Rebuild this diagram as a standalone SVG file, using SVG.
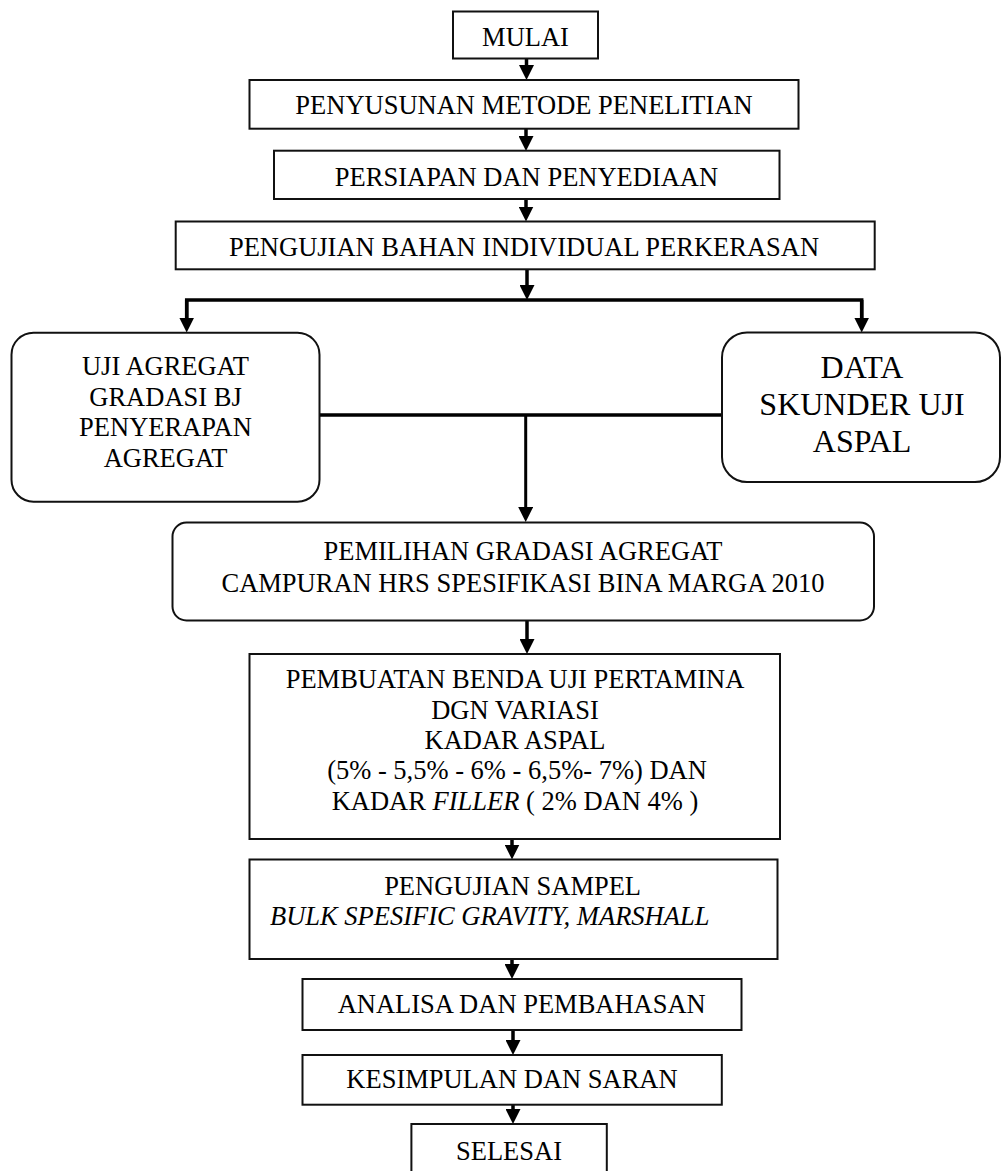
<svg xmlns="http://www.w3.org/2000/svg" width="1002" height="1171" viewBox="0 0 1002 1171">
<style>
.box{fill:#fff;stroke:#111;stroke-width:2}
.t{font-family:"Liberation Serif","Times New Roman",serif;font-size:26.5px;fill:#000;text-anchor:middle}
.big{font-size:32px}
.c{fill:none;stroke:#000;stroke-width:3.5}
.thin{stroke-width:3}
</style>
<defs>
<marker id="ah" viewBox="0 0 15 15" refX="7" refY="7.5" markerWidth="15" markerHeight="15" markerUnits="userSpaceOnUse" orient="auto">
<path d="M0,0 L15,7.5 L0,15 z" fill="#000"/>
</marker>
</defs>
<rect width="1002" height="1171" fill="#fff"/>
<g id="connectors">
<line class="c" x1="526.5" y1="59" x2="526.5" y2="72" marker-end="url(#ah)"/>
<line class="c" x1="526" y1="129" x2="526" y2="143" marker-end="url(#ah)"/>
<line class="c" x1="526" y1="199" x2="526" y2="213.5" marker-end="url(#ah)"/>
<line class="c" x1="527" y1="269" x2="527" y2="292" marker-end="url(#ah)"/>
<polyline class="c" points="186.7,325 186.7,300 861.7,300 861.7,325" stroke-width="4"/>
<line class="c" x1="186.7" y1="300" x2="186.7" y2="324.5" marker-end="url(#ah)"/>
<line class="c" x1="861.7" y1="300" x2="861.7" y2="324.5" marker-end="url(#ah)"/>
<line class="c" x1="319.5" y1="415" x2="722" y2="415" stroke-width="4"/>
<line class="c thin" x1="525.7" y1="415" x2="525.7" y2="514" marker-end="url(#ah)"/>
<line class="c" x1="527" y1="621" x2="527" y2="646" marker-end="url(#ah)"/>
<line class="c" x1="512" y1="839" x2="512" y2="851.5" marker-end="url(#ah)"/>
<line class="c" x1="512" y1="959" x2="512" y2="971" marker-end="url(#ah)"/>
<line class="c" x1="513" y1="1030" x2="513" y2="1047" marker-end="url(#ah)"/>
<line class="c" x1="513" y1="1105" x2="513" y2="1116" marker-end="url(#ah)"/>
</g>
<g id="mulai">
<rect class="box" x="453" y="11.5" width="145" height="47"/>
<text class="t" x="525.5" y="46">MULAI</text>
</g>
<g id="penyusunan">
<rect class="box" x="249.5" y="80" width="549" height="48.7"/>
<text class="t" x="524" y="114">PENYUSUNAN METODE PENELITIAN</text>
</g>
<g id="persiapan">
<rect class="box" x="274" y="150.7" width="505.5" height="48.3"/>
<text class="t" x="526.5" y="186">PERSIAPAN DAN PENYEDIAAN</text>
</g>
<g id="pengujian-bahan">
<rect class="box" x="175.7" y="221.5" width="699" height="47.8"/>
<text class="t" x="524" y="256">PENGUJIAN BAHAN INDIVIDUAL PERKERASAN</text>
</g>
<g id="uji-agregat">
<rect class="box" x="11.5" y="332.7" width="308" height="169" rx="22" ry="22"/>
<text class="t" x="165.5" y="375">UJI AGREGAT</text>
<text class="t" x="165.5" y="405.5">GRADASI BJ</text>
<text class="t" x="165.5" y="436">PENYERAPAN</text>
<text class="t" x="165.5" y="466.5">AGREGAT</text>
</g>
<g id="data-skunder">
<rect class="box" x="722" y="332.5" width="278" height="149.5" rx="25" ry="25"/>
<text class="t big" x="862" y="378">DATA</text>
<text class="t big" x="862" y="415">SKUNDER UJI</text>
<text class="t big" x="862" y="452">ASPAL</text>
</g>
<g id="pemilihan">
<rect class="box" x="172.5" y="522.5" width="701.5" height="98" rx="14" ry="14"/>
<text class="t" x="523" y="560">PEMILIHAN GRADASI AGREGAT</text>
<text class="t" x="523" y="591.5">CAMPURAN HRS SPESIFIKASI BINA MARGA 2010</text>
</g>
<g id="pembuatan">
<rect class="box" x="249.5" y="654" width="530.5" height="185"/>
<text class="t" x="515" y="688">PEMBUATAN BENDA UJI PERTAMINA</text>
<text class="t" x="515" y="719">DGN VARIASI</text>
<text class="t" x="515" y="749">KADAR ASPAL</text>
<text class="t" x="517" y="778.5">(5% - 5,5% - 6% - 6,5%- 7%) DAN</text>
<text class="t" x="515" y="810">KADAR <tspan font-style="italic">FILLER</tspan> ( 2% DAN 4% )</text>
</g>
<g id="pengujian-sampel">
<rect class="box" x="249.5" y="859.5" width="528" height="99.5"/>
<text class="t" x="512.6" y="895">PENGUJIAN SAMPEL</text>
<text class="t" x="270" y="925" style="text-anchor:start;font-style:italic">BULK SPESIFIC GRAVITY, MARSHALL</text>
</g>
<g id="analisa">
<rect class="box" x="302.5" y="979" width="439" height="51"/>
<text class="t" x="521.7" y="1012.5">ANALISA DAN PEMBAHASAN</text>
</g>
<g id="kesimpulan">
<rect class="box" x="302.5" y="1055" width="419.3" height="49.7"/>
<text class="t" x="512" y="1088">KESIMPULAN DAN SARAN</text>
</g>
<g id="selesai">
<rect class="box" x="411.4" y="1124" width="195.4" height="60"/>
<text class="t" x="509" y="1160">SELESAI</text>
</g>
</svg>
